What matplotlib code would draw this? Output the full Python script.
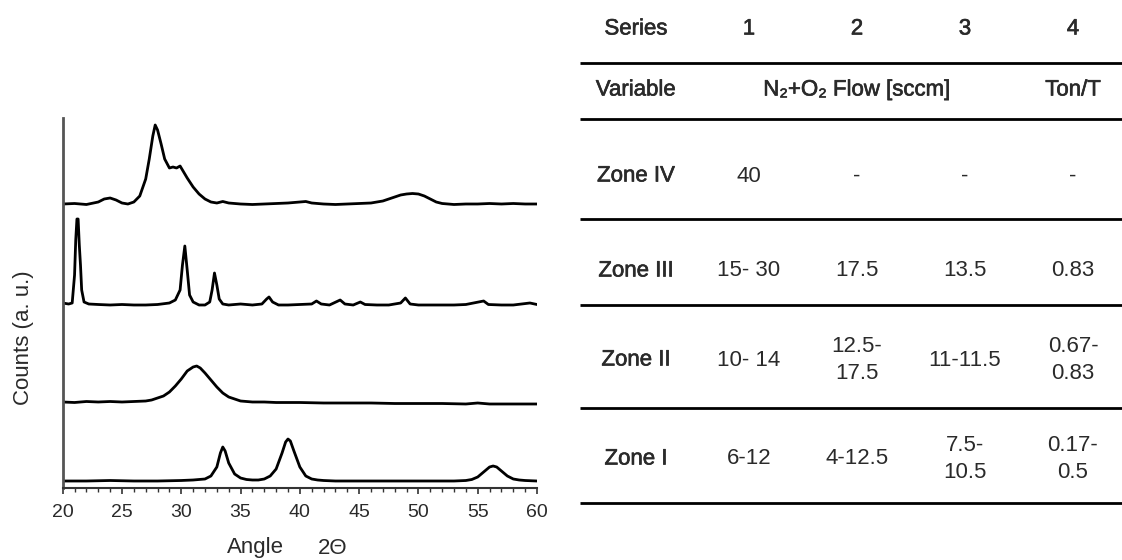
import matplotlib.pyplot as plt
import matplotlib.patheffects as pe
from matplotlib.ticker import MultipleLocator

# XRD patterns, intensity above each pattern's own baseline (a. u.)
angle_1 = [20, 22, 24, 26, 28, 30, 31, 32, 32.5, 33, 33.3, 33.5, 33.7, 34, 34.5, 35, 35.5, 36, 36.5,
           37, 37.5, 38, 38.5, 38.8, 39.0, 39.2, 39.5, 40, 40.5, 41, 41.5, 42, 43, 45, 47, 49, 51, 53,
           54, 54.5, 55, 55.5, 56, 56.3, 56.6, 57, 57.5, 58, 58.5, 59, 60]
counts_1 = [0, 0, 0.5, 0, 0, 0.5, 1, 2, 5, 14, 28, 34, 30, 18, 7, 3, 1.5, 1, 1,
            2, 5, 12, 28, 39, 42, 40, 30, 14, 5, 2, 1, 0.5, 0, 0, 0, 0, 0, 0,
            0.5, 1.5, 4, 9, 14, 15, 14, 10, 5, 2, 1, 0.5, 0]

angle_2 = [20, 21, 22, 23, 24, 25, 26, 27, 27.5, 28, 28.5, 29, 29.5, 30, 30.5, 31, 31.3, 31.6, 32,
           32.5, 33, 33.5, 34, 34.5, 35, 36, 37, 38, 40, 42, 44, 46, 48, 50, 52, 54, 55, 56, 58, 60]
counts_2 = [0, -0.5, 0.5, 0, 0.5, 0, 0.5, 1, 2, 4, 6, 10, 16, 23, 31, 35, 36, 34, 29,
            22, 15, 9, 5, 3, 1, 0, 0, -0.5, -0.5, -1, -1, -1, -1.5, -1.5, -1.5, -2, -1, -2, -2, -2]

angle_3 = [20, 20.5, 20.8, 21.0, 21.1, 21.2, 21.3, 21.4, 21.5, 21.6, 21.8, 22.2, 23, 24, 25, 26, 27,
           28, 29, 29.5, 29.9, 30.1, 30.3, 30.5, 30.7, 31, 31.5, 32, 32.4, 32.6, 32.8, 33.0, 33.2,
           33.5, 34, 35, 36, 36.8, 37.2, 37.4, 37.7, 38.2, 39, 40, 41, 41.4, 41.8, 42.5, 43.4, 43.8,
           44.5, 45.1, 45.5, 46.5, 47.5, 48.5, 48.9, 49.3, 50, 51, 52, 53, 54, 55.5, 55.9, 57, 58,
           59.4, 60]
counts_3 = [2, 1, 2, 30, 65, 86, 86, 60, 40, 15, 3, 1, 0.5, 0, 0.5, 0, 0,
            0.5, 2, 5, 15, 40, 59, 35, 10, 3, 0, 0, 3, 15, 32, 20, 6,
            1, 0, 1, 0, 1, 6, 8, 3, 0, 0, 0.5, 1, 4, 1, 0, 5, 1,
            0, 3, 0.5, 0, 0, 2, 7, 1, 0, 0, 0, 0, 0.5, 4, 0.5, 0, 0,
            2, 0.5]

angle_4 = [20, 21, 22, 23, 23.5, 24, 24.5, 25, 25.5, 26, 26.5, 27, 27.3, 27.6, 27.8, 28.0, 28.3,
           28.6, 29.0, 29.3, 29.6, 29.9, 30.2, 30.5, 31, 31.5, 32, 32.5, 33, 33.5, 34, 35, 36, 37,
           38, 39, 40, 40.5, 41, 42, 43, 44, 45, 46, 47, 47.5, 48, 48.5, 49, 49.5, 50, 50.5, 51,
           51.5, 52, 53, 54, 55, 56, 57, 58, 59, 60]
counts_4 = [0, 0.5, -0.5, 2, 5, 6, 4, 1, 0, 2, 8, 25, 45, 68, 79, 74, 60,
            45, 36, 37, 36, 38, 32, 26, 17, 10, 5, 2, 1, 2.5, 1, 0, -0.5, 0,
            0.5, 1, 2, 2.5, 1, 0, -0.5, 0, 0.5, 1, 3, 5, 7, 9, 10, 10.5, 10, 8, 5,
            2, 0.5, -0.5, 0, 0, 0.5, 0, 0.5, 0, 0]

patterns = [(angle_1, counts_1), (angle_2, counts_2), (angle_3, counts_3), (angle_4, counts_4)]
baselines = [7, 86, 183, 284]

# table contents
table_head = ["Series", "1", "2", "3", "4"]
row_labels = ["Zone IV", "Zone III", "Zone II", "Zone I"]
flow_values = [["40", "-", "-"],
               ["15- 30", "17.5", "13.5"],
               ["10- 14", "12.5-\n17.5", "11-11.5"],
               ["6-12", "4-12.5", "7.5-\n10.5"]]
ton_values = ["-", "0.83", "0.67-\n0.83", "0.17-\n0.5"]

W, H = 1122, 560
SANS = ["Liberation Sans", "DejaVu Sans"]
INK = "#2a2a2a"
# header cells are set a little heavier than the numbers
HEAVY = [pe.withStroke(linewidth=0.45, foreground=INK)]


def px_box(x0, y0, x1, y1):
    return [x0 / W, 1 - y1 / H, (x1 - x0) / W, (y1 - y0) / H]


fig = plt.figure(figsize=(W / 100, H / 100), dpi=100)

# stacked diffractograms
ax = fig.add_axes(px_box(62.7, 118, 537, 488))
for (ang, cnt), base in zip(patterns, baselines):
    ax.plot(ang, [c + base for c in cnt], color="black", lw=2.0, solid_joinstyle="round")

ax.set_xlim(20, 60)
ax.set_ylim(0, 370)
for side in ("top", "right"):
    ax.spines[side].set_visible(False)
ax.spines["left"].set_color("#555555")
ax.spines["left"].set_linewidth(2)
ax.spines["bottom"].set_color("#333333")
ax.spines["bottom"].set_linewidth(1.5)
ax.set_yticks([])
ax.xaxis.set_major_locator(MultipleLocator(5))
ax.xaxis.set_minor_locator(MultipleLocator(1))
ax.tick_params(axis="x", which="major", direction="out", length=4.5, width=1.2, color="#333333",
               pad=7, labelsize=14, labelcolor=INK)
ax.tick_params(axis="x", which="minor", direction="out", length=3, width=1, color="#333333")
for lab in ax.get_xticklabels():
    lab.set_family(SANS)

fig.text(23 / W, 1 - 338 / H, "Counts (a. u.)", rotation=90, ha="center", va="center",
         fontsize=16, family=SANS, color=INK)
fig.text(255 / W, 1 - 548 / H, "Angle", ha="center", va="center", fontsize=16,
         family=SANS, color=INK)
fig.text(333 / W, 1 - 548 / H, "2\u0398", ha="center", va="center", fontsize=16,
         family=SANS, color=INK)

# parameter table, drawn in pixel units
tax = fig.add_axes([580 / W, 0, 1 - 580 / W, 1])
tax.set_xlim(580, W)
tax.set_ylim(H, 0)
tax.axis("off")

col_x = [636, 749, 857, 965, 1073]
row_y = [176, 271, 360, 459]
tax.hlines([63, 119, 219, 305, 408, 503], 580, W, color="black", lw=2)


def head(x, y, txt):
    tax.text(x, y, txt, ha="center", va="center", fontsize=16, family=SANS, color=INK,
             path_effects=HEAVY)


for x, txt in zip(col_x, table_head):
    head(x, 29, txt)
head(col_x[0], 90, "Variable")
head(col_x[2], 90, "N\u2082+O\u2082 Flow [sccm]")
head(col_x[4], 90, "Ton/T")

for y, label, flows, ton in zip(row_y, row_labels, flow_values, ton_values):
    head(col_x[0], y, label)
    for x, val in zip(col_x[1:4], flows):
        tax.text(x, y, val, ha="center", va="center", fontsize=16, family=SANS, color=INK,
                 linespacing=1.35, multialignment="center")
    tax.text(col_x[4], y, ton, ha="center", va="center", fontsize=16, family=SANS, color=INK,
             linespacing=1.35, multialignment="center")

fig.savefig("out.png", dpi=100)
